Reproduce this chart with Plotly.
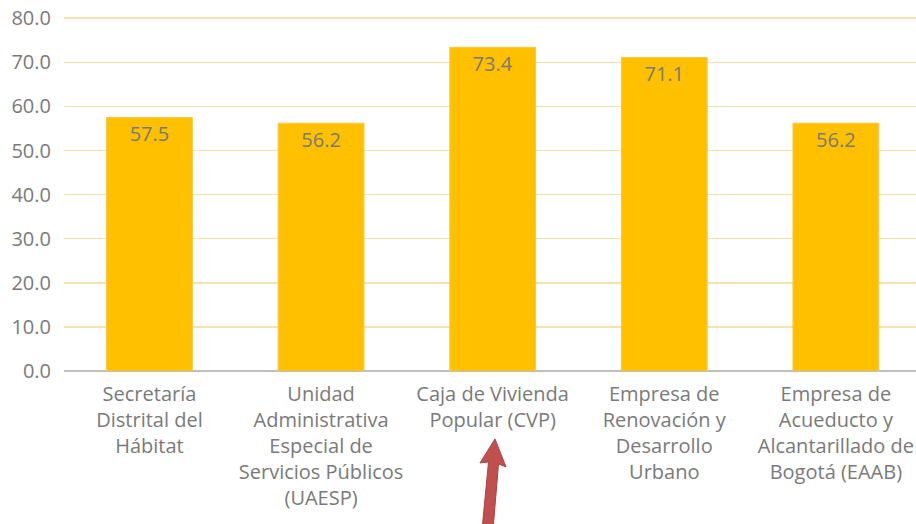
import plotly.graph_objects as go

categories = [
    "Secretaría<br>Distrital del<br>Hábitat",
    "Unidad<br>Administrativa<br>Especial de<br>Servicios Públicos<br>(UAESP)",
    "Caja de Vivienda<br>Popular (CVP)",
    "Empresa de<br>Renovación y<br>Desarrollo<br>Urbano",
    "Empresa de<br>Acueducto y<br>Alcantarillado de<br>Bogotá (EAAB)",
]
values = [57.5, 56.2, 73.4, 71.1, 56.2]
y_ticks = [0, 10, 20, 30, 40, 50, 60, 70, 80]
y_tick_labels = ["0.0", "10.0", "20.0", "30.0", "40.0", "50.0", "60.0", "70.0", "80.0"]

W, H = 916, 524
Y_TOP = 80.5
PX_PER_UNIT = (371 - 18) / 80.0
ML, MR, MB = 64, 0, 524 - 371
MT = 18 - (Y_TOP - 80) * PX_PER_UNIT
FONT = "Open Sans"
GREY = "#7a7a7a"

fig = go.Figure()
fig.add_trace(go.Bar(
    x=list(range(len(categories))),
    y=values,
    width=0.5,
    marker=dict(color="#FFC000", line=dict(color="#F7C94A", width=1)),
    text=[f"{v:.1f}" for v in values],
    textposition="inside",
    insidetextanchor="end",
    textfont=dict(family=FONT, size=20, color=GREY),
    cliponaxis=False,
    hoverinfo="skip",
))

pw = W - ML - MR
ph = H - MT - MB

def px2paper(px, py):
    return (px - ML) / pw, (H - MB - py) / ph

arrow_pts = [(495, 439), (480, 463), (488.5, 462), (482, 530), (493, 530), (498.5, 464), (506, 467)]
conv = [px2paper(x, y) for x, y in arrow_pts]
path = "M " + " L ".join(f"{x:.5f},{y:.5f}" for x, y in conv) + " Z"

fig.update_layout(
    width=W, height=H,
    margin=dict(l=ML, r=MR, t=MT, b=MB, pad=0, autoexpand=False),
    plot_bgcolor="white", paper_bgcolor="white",
    showlegend=False,
    font=dict(family=FONT, color=GREY),
    xaxis=dict(
        tickmode="array",
        tickvals=list(range(len(categories))),
        ticktext=categories,
        range=[-0.498, 4.467],
        tickfont=dict(family=FONT, size=20, color=GREY),
        showgrid=False,
        showline=False,
        zeroline=False,
        ticks="",
        automargin=False,
        ticklabelstandoff=9,
    ),
    yaxis=dict(
        range=[0, Y_TOP],
        tickmode="array",
        tickvals=y_ticks,
        ticktext=y_tick_labels,
        tickfont=dict(family=FONT, size=20, color=GREY),
        showgrid=True,
        gridcolor="#F5E2AE",
        gridwidth=1.5,
        zeroline=True,
        zerolinecolor="#BFBFBF",
        zerolinewidth=2,
        ticks="",
        ticklabelstandoff=12,
        automargin=False,
    ),
    shapes=[dict(
        type="path", xref="paper", yref="paper", path=path,
        fillcolor="#C0504D", line=dict(color="#A94441", width=1), layer="above",
    )],
)

fig.write_html(
    "out.html",
    config={"displayModeBar": False, "staticPlot": True},
    post_script="document.body.style.margin='0px';",
)
